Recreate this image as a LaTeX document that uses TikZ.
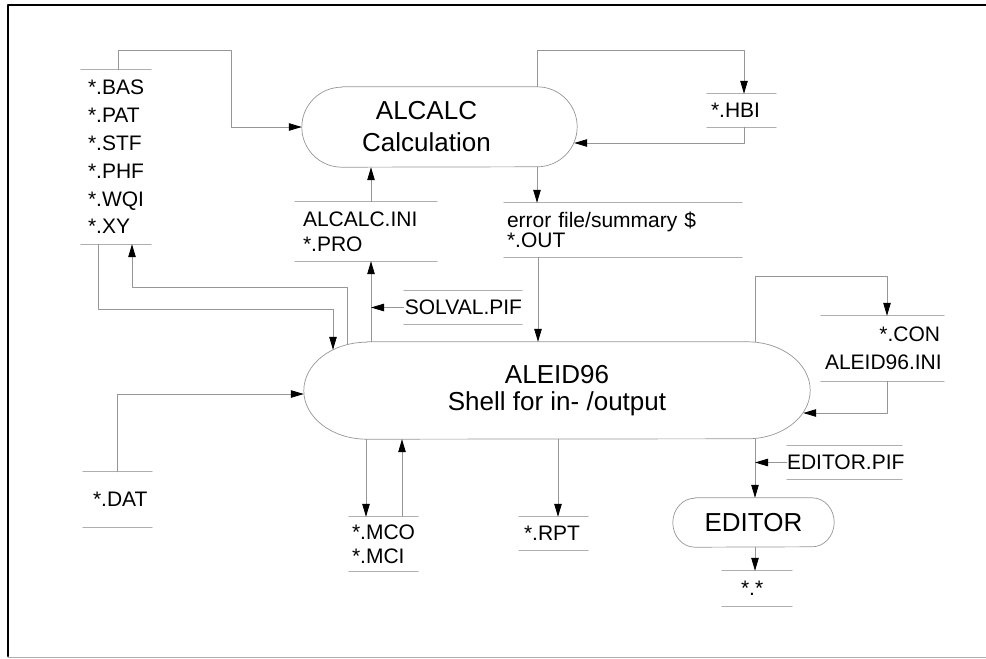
\documentclass[tikz,border=0pt]{standalone}
\usepackage{fontspec}
\setmainfont{Liberation Sans}
\usetikzlibrary{arrows.meta}
\definecolor{flowgray}{RGB}{150,150,150}
\definecolor{storegray}{RGB}{175,175,175}
\tikzset{
  flow/.style={draw=flowgray, line width=0.8pt, -{Triangle[length=13pt,width=7.5pt,color=black]}},
  storeline/.style={draw=storegray, line width=1pt},
  procline/.style={draw=flowgray, line width=0.7pt},
  proc/.style={rectangle, inner sep=0pt, align=center, font={\fontsize{26}{27}\selectfont}},
  store/.style={inner ysep=0pt, align=left, font={\fontsize{21}{#1}\selectfont}},
  store/.default=25
}
\begin{document}
\begin{tikzpicture}[x=1pt,y=1pt,line cap=round,line join=round]
  \useasboundingbox (0,0) rectangle (986,-659);
  % frame
  \draw[line width=2.2pt] (8,-656) -- (8,-5) -- (986,-5);
  \draw[storegray, line width=1pt] (8,-657) -- (986,-657);

  % processes
  \node[proc, minimum width=275pt, minimum height=80pt] (alcalc) at (439.5,-127) {};
  \node[proc, font={\fontsize{26}{32}\selectfont}] (alcalctext) at ([xshift=-13]alcalc.center) {ALCALC\\Calculation};
  \node[proc, minimum width=506pt, minimum height=97pt] (aleid) at (557,-390.5) {ALEID96\\Shell for in- /output};
  \node[proc, minimum width=161pt, minimum height=49pt] (editor) at (753.5,-522.5) {EDITOR};
  \foreach \p/\rx/\ry in {alcalc/40pt/40pt, aleid/63pt/48.5pt, editor/22pt/24.5pt}
    \draw[procline] ([xshift=\rx]\p.north west) -- ([xshift=-\rx]\p.north east)
      arc[start angle=90, end angle=-90, x radius=\rx, y radius=\ry]
      -- ([xshift=\rx]\p.south west)
      arc[start angle=270, end angle=90, x radius=\rx, y radius=\ry] -- cycle;

  % data stores
  \node[store=27.8, text width=56pt, inner xsep=7pt, minimum height=174pt] (bas) at (116,-157)
    {*.BAS\\{*}.PAT\\{*}.STF\\{*}.PHF\\{*}.WQI\\{*}.XY};
  \node[store, text width=126pt, inner xsep=8pt, minimum height=59pt] (ini) at (366,-231.5)
    {ALCALC.INI\\{*}.PRO};
  \node[store, align=right, text width=118pt, inner xsep=0pt, minimum height=33pt] (solval) at (463,-307.5)
    {SOLVAL.PIF};
  \node[store=20, text width=232pt, inner xsep=3pt, minimum height=54pt] (out) at (623,-230)
    {error file/summary \$\\{*}.OUT};
  \node[store, text width=61pt, inner xsep=4pt, minimum height=33pt] (hbi) at (741.5,-110.5) {*.HBI};
  \node[store=28, align=right, text width=115pt, inner xsep=4pt, minimum height=65pt] (con) at (882.5,-348.5)
    {*.CON\\ALEID96.INI};
  \node[store, text width=49pt, inner xsep=10pt, minimum height=55pt] (dat) at (117.5,-499.5) {*.DAT};
  \node[store=24, text width=63pt, inner xsep=3pt, minimum height=54pt] (mco) at (383.5,-544)
    {*.MCO\\{*}.MCI};
  \node[store, text width=59pt, inner xsep=5pt, minimum height=33pt] (rpt) at (553.5,-533.5) {*.RPT};
  \node[store, align=right, text width=115pt, inner xsep=0pt, minimum height=33pt] (edpif) at (844.5,-462.5)
    {EDITOR.PIF};
  \node[store, text width=32pt, inner xsep=19pt, minimum height=35pt] (any) at (757,-588.5) {*.*};
  \foreach \s in {bas,ini,solval,out,hbi,con,dat,mco,rpt,edpif,any}
    \draw[storeline] (\s.north west) -- (\s.north east) (\s.south west) -- (\s.south east);

  % data flows
  \draw[flow] ([xshift=2]bas.north) -- ++(0,19) -| (231,-127) -- (alcalc.west);
  \draw[flow] ([xshift=5]ini.north) -- ([xshift=5]ini.north |- alcalc.south);
  \draw[flow] ([xshift=5]ini.south |- aleid.north) -- ([xshift=5]ini.south);
  \draw[flow] (solval.west) -- ([xshift=5]ini.south |- solval.west);
  \draw[flow] ([xshift=-18]bas.south) -- ++(0,-65) -| ([xshift=-224,yshift=-8]aleid.north);
  \draw[flow] ([xshift=-210,yshift=-2.5]aleid.north) |- ([xshift=16,yshift=-43]bas.south) -- ([xshift=16]bas.south);
  \draw[flow] ([xshift=-86]out.north |- alcalc.south) -- ([xshift=-86]out.north);
  \draw[flow] ([xshift=-85]out.south) -- ([xshift=-85]out.south |- aleid.north);
  \draw[flow] ([xshift=97.5]alcalc.north) |- ([xshift=2.5,yshift=43]hbi.north) -- ([xshift=2.5]hbi.north);
  \draw[flow] ([xshift=2.5]hbi.south) |- ([xshift=-3,yshift=-16]alcalc.east);
  \draw[flow] ([xshift=198]aleid.north) |- ([xshift=4.5,yshift=39]con.north) -- ([xshift=4.5]con.north);
  \draw[flow] ([xshift=4.5]con.south) |- ([xshift=-7,yshift=-22.5]aleid.east);
  \draw[flow] (dat.north) |- ([yshift=-3.5]aleid.west);
  \draw[flow] ([xshift=-17.5]mco.north |- aleid.south) -- ([xshift=-17.5]mco.north);
  \draw[flow] ([xshift=18.5]mco.north) -- ([xshift=18.5]mco.north |- aleid.south);
  \draw[flow] ([xshift=4.5]rpt.north |- aleid.south) -- ([xshift=4.5]rpt.north);
  \draw[flow] ([xshift=1.5]editor.north |- aleid.south) -- ([xshift=1.5]editor.north);
  \draw[flow] (edpif.west) -- ([xshift=1.5]editor.north |- edpif.west);
  \draw[flow] ([xshift=1.5]editor.south) -- ([xshift=1.5]editor.south |- any.north);
\end{tikzpicture}
\end{document}
